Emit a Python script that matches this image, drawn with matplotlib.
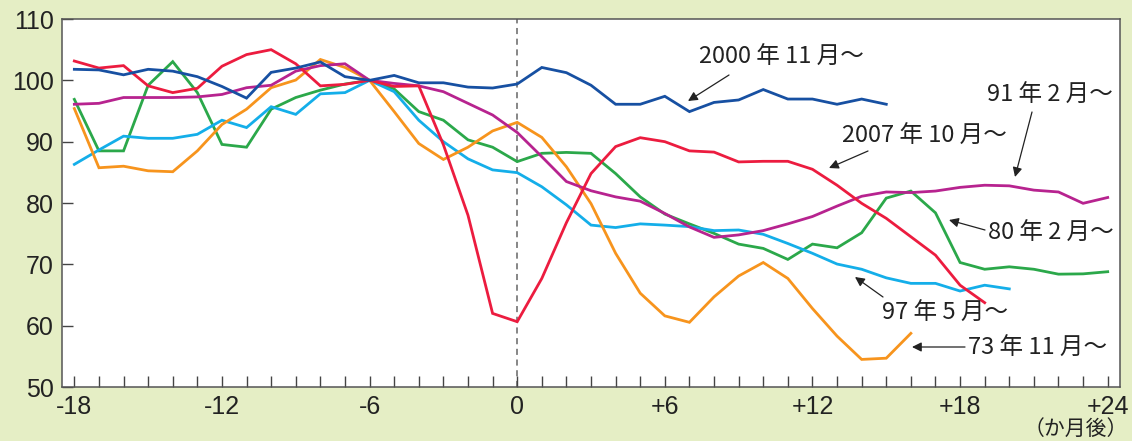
import matplotlib
matplotlib.use("Agg")
import matplotlib.pyplot as plt
import numpy as np

# index values, month 0 = peak
blue_2000 = [101.8, 101.7, 100.9, 101.8, 101.5, 100.6, 99.0, 97.1, 101.3, 102.0,
             103.0, 100.6, 100.0, 100.8, 99.6, 99.6, 98.9, 98.75, 99.4, 102.1,
             101.25, 99.2, 96.1, 96.1, 97.4, 94.9, 96.4, 96.8, 98.5, 96.95,
             96.95, 96.1, 96.95, 96.1]
red_2007 = [103.15, 102.0, 102.4, 99.1, 98.0, 98.7, 102.3, 104.2, 105.0, 102.7,
            99.1, 99.35, 100.0, 99.0, 99.1, 89.5, 78.0, 62.0, 60.65, 67.7,
            76.8, 84.8, 89.2, 90.65, 90.0, 88.5, 88.3, 86.7, 86.8, 86.8,
            85.5, 82.9, 79.95, 77.5, 74.5, 71.5, 66.6, 63.75]
magenta_91 = [96.1, 96.25, 97.2, 97.2, 97.2, 97.3, 97.7, 98.8, 99.2, 101.5,
              102.4, 102.7, 100.0, 99.5, 99.1, 98.15, 96.25, 94.35, 91.5, 87.55,
              83.5, 82.0, 81.0, 80.3, 78.3, 76.1, 74.4, 74.8, 75.5, 76.6,
              77.8, 79.5, 81.1, 81.8, 81.7, 81.95, 82.55, 82.9, 82.8, 82.1,
              81.8, 79.95, 80.9]
green_80 = [96.9, 88.5, 88.5, 99.2, 103.05, 98.0, 89.55, 89.1, 95.3, 97.2,
            98.4, 99.4, 100.0, 98.6, 94.9, 93.5, 90.3, 89.1, 86.75, 88.1,
            88.25, 88.1, 84.8, 81.0, 78.2, 76.6, 75.05, 73.3, 72.6, 70.8,
            73.3, 72.7, 75.15, 80.8, 81.95, 78.4, 70.3, 69.2, 69.6, 69.2,
            68.4, 68.45, 68.8]
cyan_97 = [86.3, 88.65, 90.9, 90.55, 90.55, 91.2, 93.5, 92.3, 95.7, 94.45,
           97.8, 98.0, 100.0, 98.15, 93.5, 90.0, 87.2, 85.4, 84.95, 82.65,
           79.7, 76.4, 76.0, 76.6, 76.4, 76.15, 75.5, 75.6, 74.9, 73.4,
           71.8, 70.05, 69.2, 67.8, 66.9, 66.9, 65.65, 66.6, 66.0]
orange_73 = [95.4, 85.75, 86.0, 85.25, 85.1, 88.5, 92.8, 95.3, 98.8, 100.05,
             103.4, 102.1, 100.0, 94.9, 89.7, 87.1, 89.1, 91.75, 93.15, 90.7,
             85.9, 79.9, 71.8, 65.3, 61.6, 60.55, 64.7, 68.1, 70.3, 67.7,
             62.8, 58.3, 54.5, 54.7, 58.75]

xtick_vals = [-18, -12, -6, 0, 6, 12, 18, 24]
xtick_labels = ["-18", "-12", "-6", "0", "+6", "+12", "+18", "+24"]

series = [
    (green_80, "#2BA84A"),
    (cyan_97, "#14AEE9"),
    (orange_73, "#F7941D"),
    (magenta_91, "#B7238F"),
    (red_2007, "#EC1C3F"),
    (blue_2000, "#1750A2"),
]

bg = "#E5EEC5"
jp = ["Noto Sans CJK JP", "DejaVu Sans"]

fig = plt.figure(figsize=(11.32, 4.41), dpi=100, facecolor=bg)
ax = fig.add_axes([0.0548, 0.1224, 0.9346, 0.8345])
ax.set_facecolor("white")

for vals, col in series:
    months = np.arange(-18, -18 + len(vals))
    ax.plot(months, vals, color=col, lw=2.0, solid_joinstyle="miter")

ax.axvline(0, color="#666666", lw=1.1, ls=(0, (4, 3)), zorder=0)

ax.set_xlim(-18.5, 24.5)
ax.set_ylim(50, 110)
ax.set_xticks(xtick_vals)
ax.set_xticklabels(xtick_labels)
ax.set_xticks(np.arange(-17, 25), minor=True)
ax.set_yticks(np.arange(50, 111, 10))

ax.tick_params(axis="x", which="both", direction="in", length=8, width=1,
               color="#444444", top=False, pad=6, labelsize=18)
ax.tick_params(axis="y", direction="in", length=8, width=1, color="#444444",
               right=False, pad=6, labelsize=18)
for lab in ax.get_xticklabels() + ax.get_yticklabels():
    lab.set_family("Liberation Sans")
    lab.set_color("#222222")

for s in ax.spines.values():
    s.set_color("#555555")
    s.set_linewidth(1.1)

arrow = dict(arrowstyle="-|>", color="#222222", lw=0.9, mutation_scale=14,
             shrinkA=0, shrinkB=0)

def note(text, tail, head, tpos, ha="left"):
    ax.annotate("", xy=head, xycoords="figure pixels", xytext=tail,
                textcoords="figure pixels", arrowprops=arrow)
    fig.text(tpos[0] / 1132, 1 - tpos[1] / 441, text, ha=ha, va="center",
             fontsize=17, family=jp, color="#222222")

note("2000 年 11 月～", (729, 441 - 75), (688, 441 - 101), (699, 57))
note("2007 年 10 月～", (868, 441 - 151), (829, 441 - 168), (842, 136))
note("91 年 2 月～", (1032, 441 - 112), (1015, 441 - 177), (987, 95))
note("80 年 2 月～", (985, 441 - 230), (949, 441 - 220), (988, 233))
note("97 年 5 月～", (883, 441 - 297), (855, 441 - 277), (882, 313))
note("73 年 11 月～", (965, 441 - 347), (912, 441 - 347), (968, 348))

fig.text(1128 / 1132, 1 - 429 / 441, "（か月後）", ha="right", va="center",
         fontsize=15, family=jp, color="#222222")

fig.savefig("out.png", dpi=100, facecolor=bg)
